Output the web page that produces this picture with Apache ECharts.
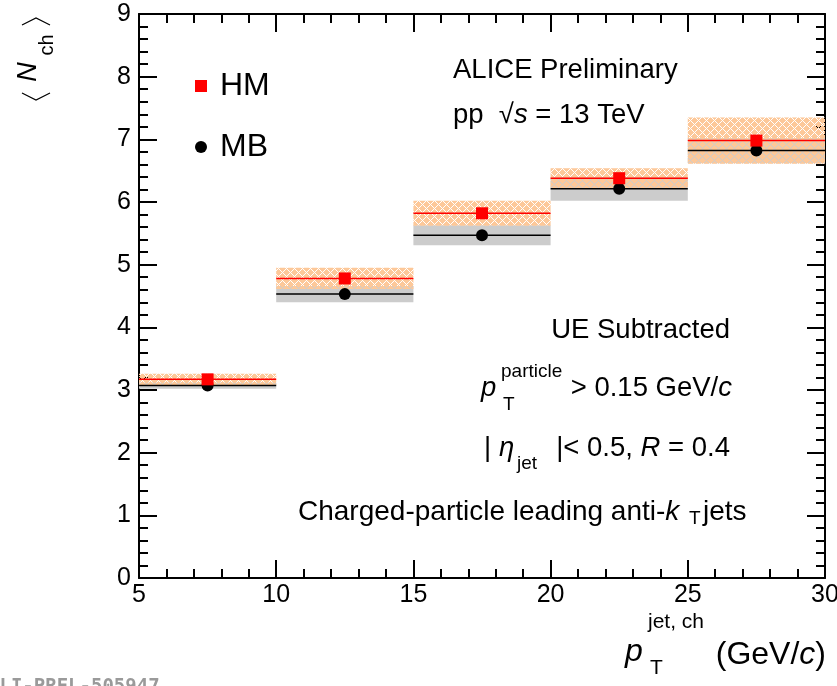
<!DOCTYPE html>
<html>
<head>
<meta charset="utf-8">
<script src="https://cdn.jsdelivr.net/npm/echarts@6/dist/echarts.min.js"></script>
<style>
  html, body { margin: 0; padding: 0; background: #fff; }
  #main { width: 837px; height: 686px; }
</style>
</head>
<body>
<div id="main"></div>
<script>
// bins in pT jet (GeV/c)
var binLo = [5, 10, 15, 20, 25];
var binHi = [10, 15, 20, 25, 30];
var binMid = [7.5, 12.5, 17.5, 22.5, 27.5];
// <Nch> values and systematic half-widths
var hmVal = [3.17, 4.78, 5.82, 6.38, 6.98];
var hmSys = [0.09, 0.17, 0.20, 0.16, 0.37];
var mbVal = [3.07, 4.53, 5.47, 6.21, 6.82];
var mbSys = [0.05, 0.13, 0.16, 0.19, 0.20];

var FONT = 'Liberation Sans';

// basket-weave like hatch for the HM systematics
function makeHatch() {
  var c = document.createElement('canvas');
  c.width = 8; c.height = 8;
  var g = c.getContext('2d');
  g.fillStyle = '#fdc899';
  g.fillRect(0, 0, 8, 8);
  var holes = [
    '..o.....',
    '.o.o....',
    'o...o...',
    '.....o.o',
    '......o.',
    '.....o.o',
    'o...o...',
    '.o.o....'
  ];
  for (var y = 0; y < 8; y++) {
    for (var x = 0; x < 8; x++) {
      if (holes[y].charAt(x) === 'o') g.clearRect(x, y, 1, 1);
    }
  }
  return c;
}
var hatch = makeHatch();

function boxData(vals, sys) {
  var out = [];
  for (var i = 0; i < vals.length; i++) out.push([binLo[i], binHi[i], vals[i], sys[i]]);
  return out;
}
function pointData(vals) {
  var out = [];
  for (var i = 0; i < vals.length; i++) out.push([binMid[i], vals[i]]);
  return out;
}

function boxRender(fill) {
  return function (params, api) {
    var a = api.coord([api.value(0), api.value(2) + api.value(3)]);
    var b = api.coord([api.value(1), api.value(2) - api.value(3)]);
    return {
      type: 'rect',
      shape: { x: a[0], y: a[1], width: b[0] - a[0], height: b[1] - a[1] },
      style: { fill: fill }
    };
  };
}
function lineRender(color) {
  return function (params, api) {
    var a = api.coord([api.value(0), api.value(2)]);
    var b = api.coord([api.value(1), api.value(2)]);
    return {
      type: 'line',
      shape: { x1: a[0], y1: a[1], x2: b[0], y2: b[1] },
      style: { stroke: color, lineWidth: 1.5 }
    };
  };
}

function txt(x, y, text, size, opt) {
  opt = opt || {};
  return {
    type: 'text', x: x, y: y, rotation: opt.rot || 0, z: 100,
    style: {
      text: text, fontSize: size, fontFamily: opt.family || FONT,
      fontStyle: opt.italic ? 'italic' : 'normal', fontWeight: opt.weight || 'normal',
      fill: opt.color || '#000',
      textAlign: opt.align || 'left', align: opt.align || 'left',
      textVerticalAlign: 'middle', verticalAlign: 'middle',
      rich: opt.rich
    }
  };
}
var richIt = function (size) {
  return {
    n: { fontSize: size, fontFamily: FONT, fill: '#000' },
    i: { fontSize: size, fontFamily: FONT, fontStyle: 'italic', fill: '#000' }
  };
};

function axisCommon(pos, showLabel) {
  return {
    type: 'value',
    position: pos,
    axisLine: { show: true, onZero: false, lineStyle: { color: '#000', width: 2 } },
    axisTick: { show: true, inside: true, length: 18, lineStyle: { color: '#000', width: 2 } },
    minorTick: { show: true, splitNumber: 5, length: 9, lineStyle: { color: '#000', width: 2 } },
    splitLine: { show: false },
    minorSplitLine: { show: false },
    axisLabel: { show: showLabel, fontSize: 25, fontFamily: FONT, color: '#000', hideOverlap: false }
  };
}

var chart = echarts.init(document.getElementById('main'), null, { renderer: 'canvas' });

var xBottom = axisCommon('bottom', true);
xBottom.min = 5; xBottom.max = 30; xBottom.interval = 5;
xBottom.axisLabel.margin = 5;
var xTop = axisCommon('top', false);
xTop.min = 5; xTop.max = 30; xTop.interval = 5;
var yLeft = axisCommon('left', true);
yLeft.min = 0; yLeft.max = 9; yLeft.interval = 1;
yLeft.axisLabel.margin = 8;
var yRight = axisCommon('right', false);
yRight.min = 0; yRight.max = 9; yRight.interval = 1;

var option = {
  animation: false,
  backgroundColor: '#fff',
  grid: { left: 139, right: 12, top: 14, bottom: 108, containLabel: false, outerBoundsMode: 'none' },
  xAxis: [xBottom, xTop],
  yAxis: [yLeft, yRight],
  legend: {
    orient: 'vertical', left: 195, top: 70, padding: 0, itemWidth: 12, itemHeight: 12, itemGap: 29,
    textStyle: { fontSize: 32, fontFamily: FONT, color: '#000', padding: [0, 0, 0, 8] },
    data: [{ name: 'HM', icon: 'rect' }, { name: 'MB', icon: 'circle' }]
  },
  series: [
    { type: 'custom', name: 'MB sys', z: 1, renderItem: boxRender('#cccccc'),
      data: boxData(mbVal, mbSys), encode: { x: [0, 1], y: 2 } },
    { type: 'custom', name: 'HM sys', z: 2, renderItem: boxRender({ image: hatch, repeat: 'repeat' }),
      data: boxData(hmVal, hmSys), encode: { x: [0, 1], y: 2 } },
    { type: 'custom', name: 'MB bins', z: 3, renderItem: lineRender('#000'),
      data: boxData(mbVal, mbSys), encode: { x: [0, 1], y: 2 } },
    { type: 'custom', name: 'HM bins', z: 4, renderItem: lineRender('#ff0000'),
      data: boxData(hmVal, hmSys), encode: { x: [0, 1], y: 2 } },
    { type: 'scatter', name: 'MB', z: 5, symbol: 'circle', symbolSize: 12,
      itemStyle: { color: '#000', opacity: 1 }, data: pointData(mbVal) },
    { type: 'scatter', name: 'HM', z: 6, symbol: 'rect', symbolSize: 12,
      itemStyle: { color: '#ff0000', opacity: 1 }, data: pointData(hmVal) }
  ],
  graphic: [
    txt(453, 70, 'ALICE Preliminary', 27.5),
    txt(453, 115, '{n|pp  √}{i|s}{n| = 13 TeV}', 27.5, { rich: richIt(27.5) }),
    txt(730, 330, 'UE Subtracted', 27.5, { align: 'right' }),
    txt(481, 388, 'p', 27.5, { italic: true }),
    txt(501, 372, 'particle', 19),
    txt(503, 405, 'T', 19),
    txt(732, 388, '{n|> 0.15 GeV/}{i|c}', 27.5, { align: 'right', rich: richIt(27.5) }),
    txt(484, 448, '|', 27.5),
    txt(499, 448, 'η', 27.5, { italic: true }),
    txt(517, 464, 'jet', 19),
    txt(730, 448, '{n||< 0.5, }{i|R}{n| = 0.4}', 27.5, { align: 'right', rich: richIt(27.5) }),
    txt(298, 512, '{n|Charged-particle leading anti-}{i|k}', 28, { rich: richIt(28) }),
    txt(689, 519, 'T', 19),
    txt(703, 512, 'jets', 28),
    // x axis title
    txt(625, 652, 'p', 32, { italic: true }),
    txt(648, 622, 'jet, ch', 21),
    txt(650, 668, 'T', 21),
    txt(826, 655, '{n|(GeV/}{i|c}{n|)}', 32, { align: 'right', rich: richIt(32) }),
    // y axis title
    txt(28, 72, 'N', 27, { italic: true, rot: Math.PI / 2, align: 'center' }),
    txt(47, 45, 'ch', 20, { rot: Math.PI / 2, align: 'center' }),
    { type: 'polyline', z: 100, shape: { points: [[22, 93], [36, 100], [50, 93]] },
      style: { stroke: '#000', lineWidth: 1.2, fill: null } },
    { type: 'polyline', z: 100, shape: { points: [[22, 25], [36, 18], [50, 25]] },
      style: { stroke: '#000', lineWidth: 1.2, fill: null } },
    // watermark
    txt(-12, 687, 'ALI-PREL-505947', 19, { family: 'DejaVu Sans Mono', weight: 'bold', color: '#9a9a9a' })
  ]
};
chart.setOption(option);
</script>
</body>
</html>
